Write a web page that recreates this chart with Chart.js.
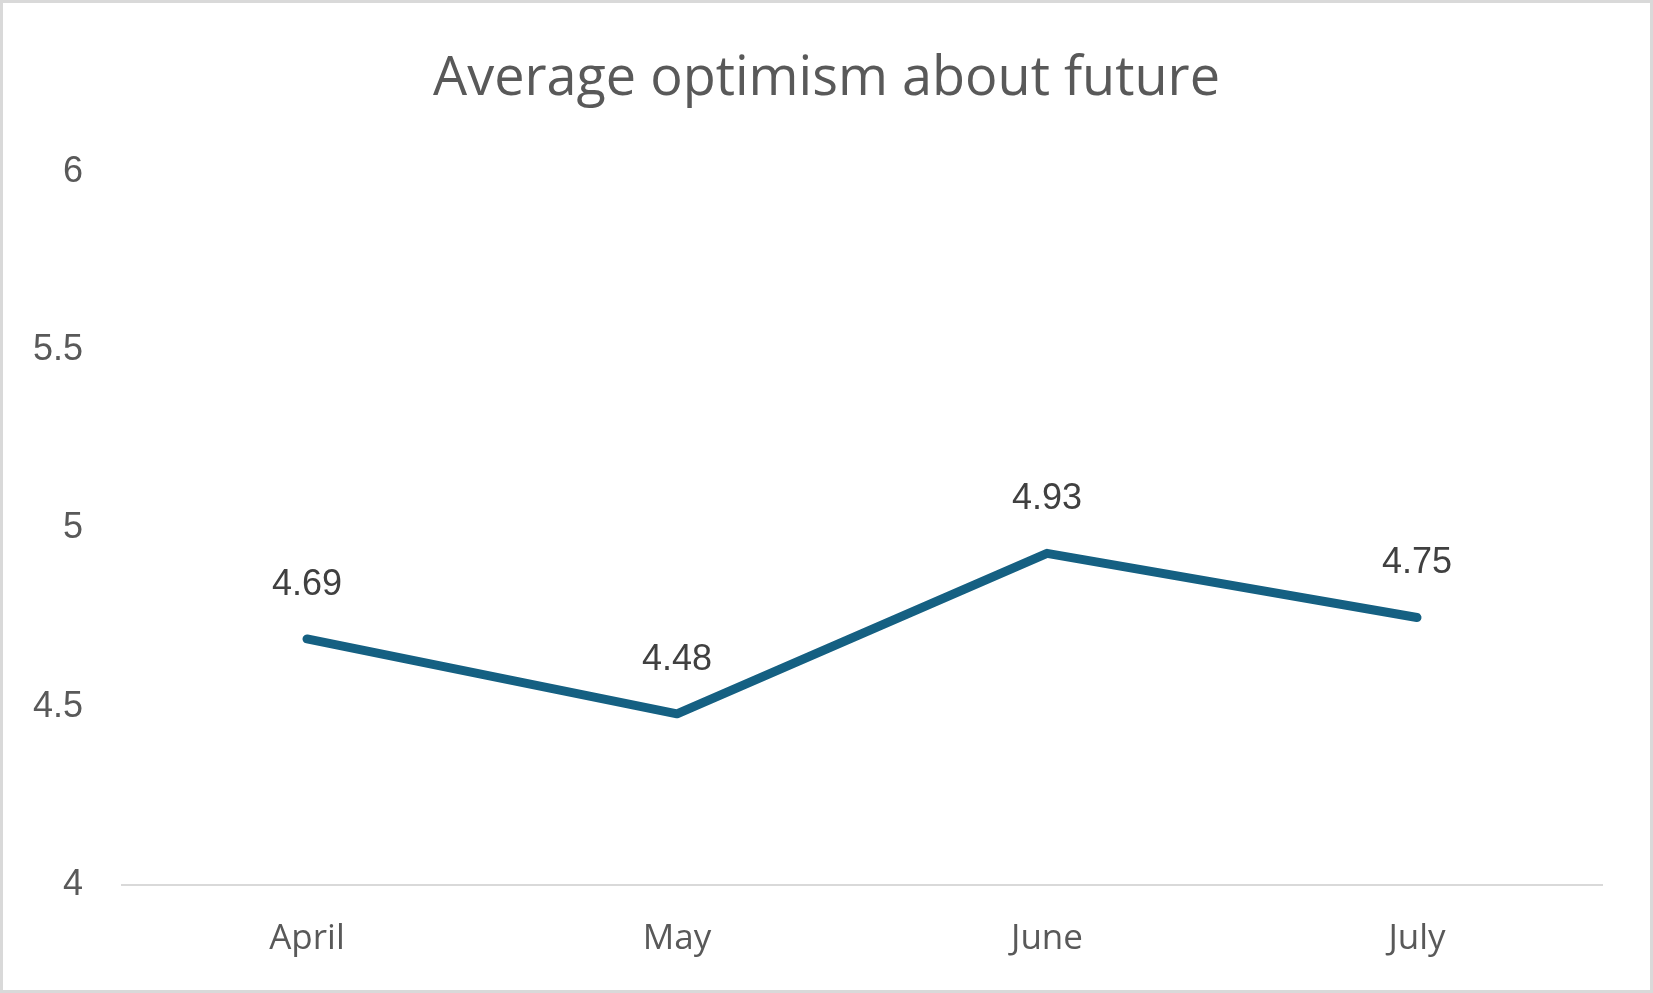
<!DOCTYPE html>
<html>
<head>
<meta charset="utf-8">
<script src="https://cdn.jsdelivr.net/npm/chart.js@4.4.1/dist/chart.umd.min.js"></script>
<style>
  html, body { margin: 0; padding: 0; background: #fff; }
  #wrap {
    width: 1653px; height: 993px;
    box-sizing: border-box;
    border: 3px solid #d9d9d9;
    background: #fff;
  }
  canvas { display: block; }
</style>
</head>
<body>
<div id="wrap"><canvas id="myChart" width="1647" height="987"></canvas></div>
<script>
// datos
const months = ['April', 'May', 'June', 'July'];
const optimism = [4.69, 4.48, 4.93, 4.75];
const yTicks = [4, 4.5, 5, 5.5, 6];

// etiquetas encima de cada punto
const pointLabels = {
    id: 'pointLabels',
    afterDatasetsDraw(chart) {
        const ctx = chart.ctx;
        const meta = chart.getDatasetMeta(0);
        ctx.save();
        ctx.font = '36px "Liberation Sans", Arial, sans-serif';
        ctx.fillStyle = '#404040';
        ctx.textAlign = 'center';
        ctx.textBaseline = 'middle';
        meta.data.forEach((pt, i) => {
            ctx.fillText(optimism[i].toFixed(2), pt.x, pt.y - 54);
        });
        ctx.restore();
    }
};

const ctx = document.getElementById('myChart').getContext('2d');
const myChart = new Chart(ctx, {
    type: 'line',
    data: {
        labels: months,
        datasets: [{
            label: 'Average optimism about future',
            data: optimism,
            borderColor: '#156082',
            backgroundColor: '#156082',
            borderWidth: 9,
            borderCapStyle: 'round',
            borderJoinStyle: 'round',
            pointRadius: 0,
            tension: 0
        }]
    },
    options: {
        responsive: false,
        animation: false,
        devicePixelRatio: 1,
        layout: {
            padding: { left: 0, right: 0, top: 0, bottom: 0 }
        },
        plugins: {
            legend: { display: false },
            tooltip: { enabled: false },
            title: {
                display: true,
                text: 'Average optimism about future',
                color: '#595959',
                font: { family: '"Open Sans", sans-serif', size: 54, weight: 'normal', lineHeight: 1.2 },
                padding: { top: 44, bottom: 60 }
            }
        },
        scales: {
            x: {
                offset: true,
                afterFit(scale) { scale.height = 105; },
                grid: { display: false, drawTicks: false },
                border: { display: true, color: '#d9d9d9', width: 2 },
                ticks: {
                    color: '#595959',
                    padding: 33,
                    font: { family: '"Open Sans", sans-serif', size: 35, lineHeight: 1.2 }
                }
            },
            y: {
                min: 4,
                max: 6,
                afterFit(scale) { scale.width = 119; },
                afterBuildTicks(scale) { scale.ticks = yTicks.map(v => ({ value: v })); },
                grid: { display: false, drawTicks: false },
                border: { display: false },
                ticks: {
                    color: '#595959',
                    padding: 39,
                    font: { family: '"Liberation Sans", Arial, sans-serif', size: 36 },
                    callback: (v) => String(v)
                }
            },
            // margen derecho vacio
            yRight: {
                position: 'right',
                min: 4,
                max: 6,
                afterFit(scale) { scale.width = 48; },
                grid: { display: false, drawTicks: false },
                border: { display: false },
                ticks: { display: false }
            }
        }
    },
    plugins: [pointLabels]
});
</script>
</body>
</html>
